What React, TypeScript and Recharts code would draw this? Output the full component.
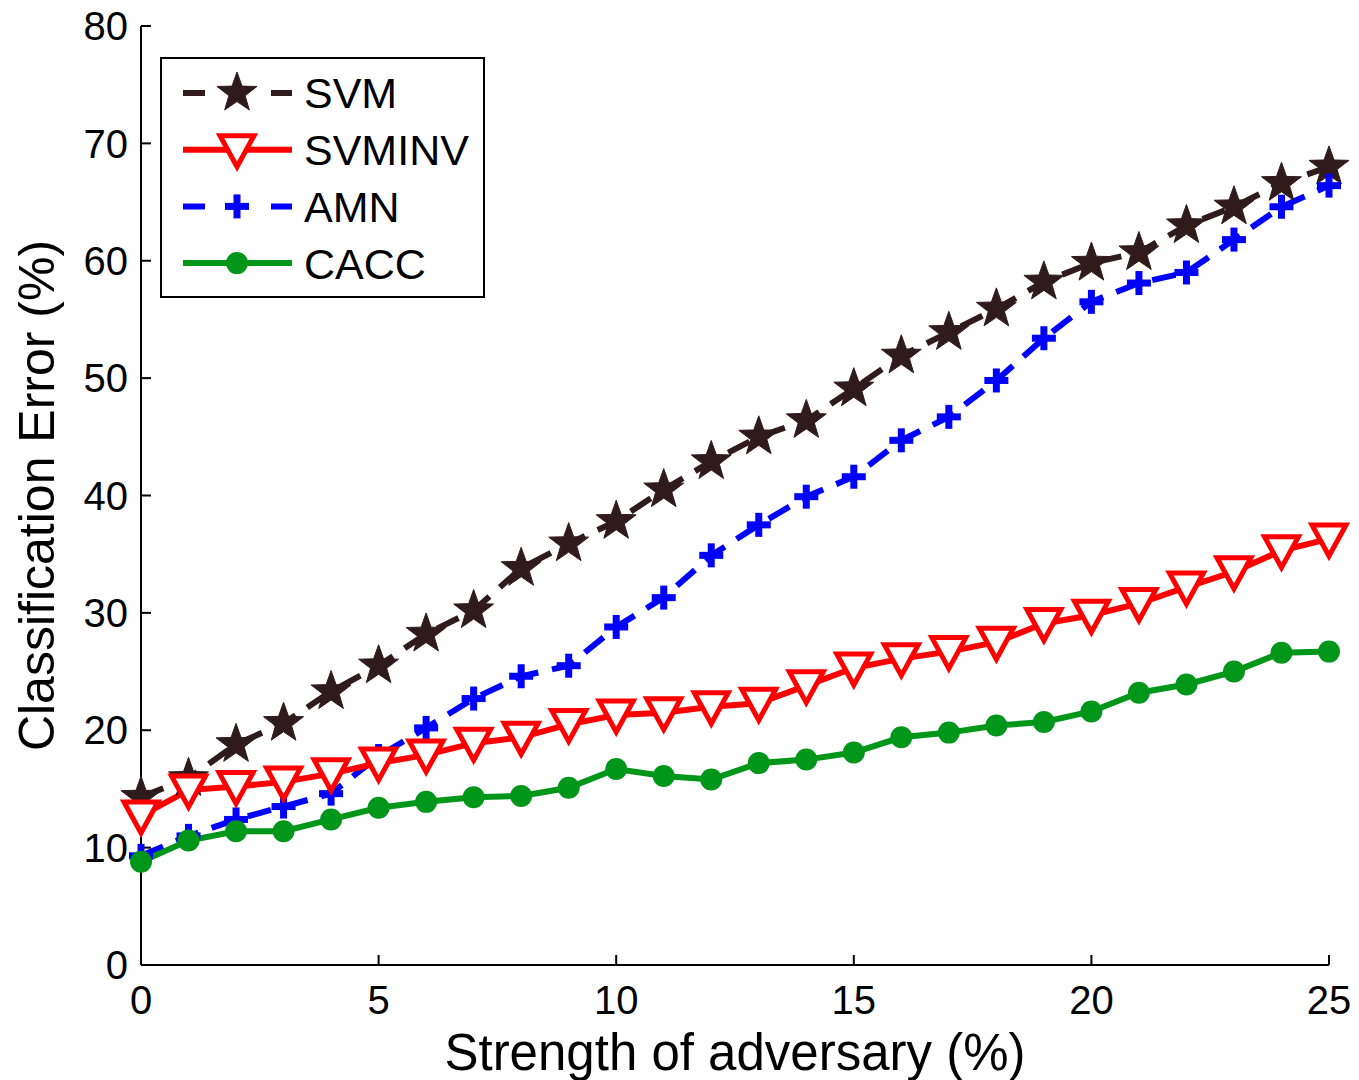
import React from "react";
import { LineChart, Line, XAxis, YAxis } from "recharts";

const strength = [0, 1, 2, 3, 4, 5, 6, 7, 8, 9, 10, 11, 12, 13, 14, 15, 16, 17, 18, 19, 20, 21, 22, 23, 24, 25];
const svm = [14.3, 15.9, 18.8, 20.6, 23.3, 25.5, 28.2, 30.2, 33.8, 35.9, 37.8, 40.5, 42.9, 45.0, 46.4, 49.1, 51.9, 53.9, 55.9, 58.2, 59.8, 60.7, 63.0, 64.6, 66.6, 68.0];
const svminv = [12.7, 14.9, 15.2, 15.6, 16.3, 17.2, 17.9, 18.9, 19.4, 20.5, 21.3, 21.5, 22.0, 22.3, 23.8, 25.3, 26.1, 26.7, 27.5, 29.1, 29.8, 30.8, 32.2, 33.5, 35.3, 36.3];
const amn = [9.3, 11.0, 12.4, 13.5, 14.6, 17.8, 20.2, 22.7, 24.6, 25.5, 28.8, 31.3, 34.9, 37.5, 39.9, 41.6, 44.7, 46.7, 49.8, 53.4, 56.5, 58.1, 59.0, 61.8, 64.6, 66.4];
const cacc = [8.8, 10.6, 11.4, 11.4, 12.4, 13.4, 13.9, 14.3, 14.4, 15.1, 16.7, 16.1, 15.8, 17.2, 17.5, 18.1, 19.4, 19.8, 20.4, 20.7, 21.6, 23.2, 23.9, 25.0, 26.6, 26.7];
const xTicks = [0, 5, 10, 15, 20, 25];
const yTicks = [0, 10, 20, 30, 40, 50, 60, 70, 80];

const FONT = "'Liberation Sans', Arial, Helvetica, sans-serif";
const C_SVM = "#2f1b1b";
const C_INV = "#ff0000";
const C_AMN = "#0000ff";
const C_CACC = "#009619";

const data = strength.map((s, i) => ({ s, svm: svm[i], svminv: svminv[i], amn: amn[i], cacc: cacc[i] }));

function starPath(cx: number, cy: number, R: number, r: number) {
  let d = "";
  for (let k = 0; k < 10; k++) {
    const rad = k % 2 === 0 ? R : r;
    const a = -Math.PI / 2 + (k * Math.PI) / 5;
    d += (k === 0 ? "M" : "L") + (cx + rad * Math.cos(a)).toFixed(2) + "," + (cy + rad * Math.sin(a)).toFixed(2);
  }
  return d + "Z";
}

const StarMark = ({ cx, cy }: any) => <path d={starPath(cx, cy, 21, 8.5)} fill={C_SVM} stroke={C_SVM} strokeWidth={1} />;
const TriMark = ({ cx, cy }: any) => (
  <path d={`M${cx - 17},${cy - 14}L${cx + 17},${cy - 14}L${cx},${cy + 17}Z`} fill="#ffffff" stroke={C_INV} strokeWidth={5} strokeLinejoin="miter" />
);
const PlusMark = ({ cx, cy }: any) => (
  <g>
    <rect x={cx - 12} y={cy - 3.5} width={24} height={7} fill={C_AMN} />
    <rect x={cx - 3.5} y={cy - 12} width={7} height={24} fill={C_AMN} />
  </g>
);
const DotMark = ({ cx, cy }: any) => <circle cx={cx} cy={cy} r={11} fill={C_CACC} />;

const legendItems = [
  { name: "SVM", color: C_SVM, dash: "22 66", Mark: StarMark },
  { name: "SVMINV", color: C_INV, dash: undefined, Mark: TriMark },
  { name: "AMN", color: C_AMN, dash: "22 66", Mark: PlusMark },
  { name: "CACC", color: C_CACC, dash: undefined, Mark: DotMark },
];

const LegendBox = () => (
  <div style={{ position: "absolute", left: 160, top: 57, width: 321, height: 237, border: "2px solid #000", background: "#fff" }}>
    <svg width={321} height={237} style={{ display: "block" }}>
      {legendItems.map((it, i) => {
        const y = 34 + i * 56.7;
        const { Mark } = it;
        return (
          <g key={it.name}>
            <line x1={21} x2={130} y1={y} y2={y} stroke={it.color} strokeWidth={6} strokeDasharray={it.dash} />
            <Mark cx={75} cy={y} />
            <text x={142} y={y} dy="0.36em" fontFamily={FONT} fontSize={43} fill="#000">{it.name}</text>
          </g>
        );
      })}
    </svg>
  </div>
);

const YLabel = (props: any) => {
  const vb = props.viewBox;
  const x = 37;
  const y = vb.y + vb.height / 2;
  return (
    <text x={x} y={y} transform={`rotate(-90, ${x}, ${y})`} textAnchor="middle" dominantBaseline="central" fontFamily={FONT} fontSize={50} fill="#000">
      Classification Error (%)
    </text>
  );
};

const XLabel = (props: any) => {
  const vb = props.viewBox;
  const x = vb.x + vb.width / 2;
  return (
    <text x={x} y={1070} textAnchor="middle" fontFamily={FONT} fontSize={51} fill="#000">
      Strength of adversary (%)
    </text>
  );
};

export default function App() {
  return (
    <div style={{ position: "absolute", left: 0, top: 0, width: 1359, height: 1080, background: "#fff" }}>
      <LineChart width={1359} height={1080} data={data} margin={{ top: 26, right: 30, bottom: 0, left: 0 }}>
        <XAxis
          dataKey="s"
          type="number"
          domain={[0, 25]}
          ticks={xTicks}
          height={115}
          tickSize={-10}
          tickMargin={31}
          axisLine={{ stroke: "#000", strokeWidth: 2 }}
          tickLine={{ stroke: "#000", strokeWidth: 2 }}
          tick={{ fill: "#000", fontSize: 40, fontFamily: FONT }}
          label={<XLabel />}
        />
        <YAxis
          type="number"
          domain={[0, 80]}
          ticks={yTicks}
          width={141}
          tickSize={-10}
          tickMargin={23}
          axisLine={{ stroke: "#000", strokeWidth: 2 }}
          tickLine={{ stroke: "#000", strokeWidth: 2 }}
          tick={{ fill: "#000", fontSize: 40, fontFamily: FONT }}
          label={<YLabel />}
        />
        <Line dataKey="svm" name="SVM" stroke={C_SVM} strokeWidth={6} strokeDasharray="24 14" dot={<StarMark />} isAnimationActive={false} />
        <Line dataKey="amn" name="AMN" stroke={C_AMN} strokeWidth={6} strokeDasharray="24 14" dot={<PlusMark />} isAnimationActive={false} />
        <Line dataKey="svminv" name="SVMINV" stroke={C_INV} strokeWidth={6} dot={<TriMark />} isAnimationActive={false} />
        <Line dataKey="cacc" name="CACC" stroke={C_CACC} strokeWidth={6} dot={<DotMark />} isAnimationActive={false} />
      </LineChart>
      <LegendBox />
    </div>
  );
}
